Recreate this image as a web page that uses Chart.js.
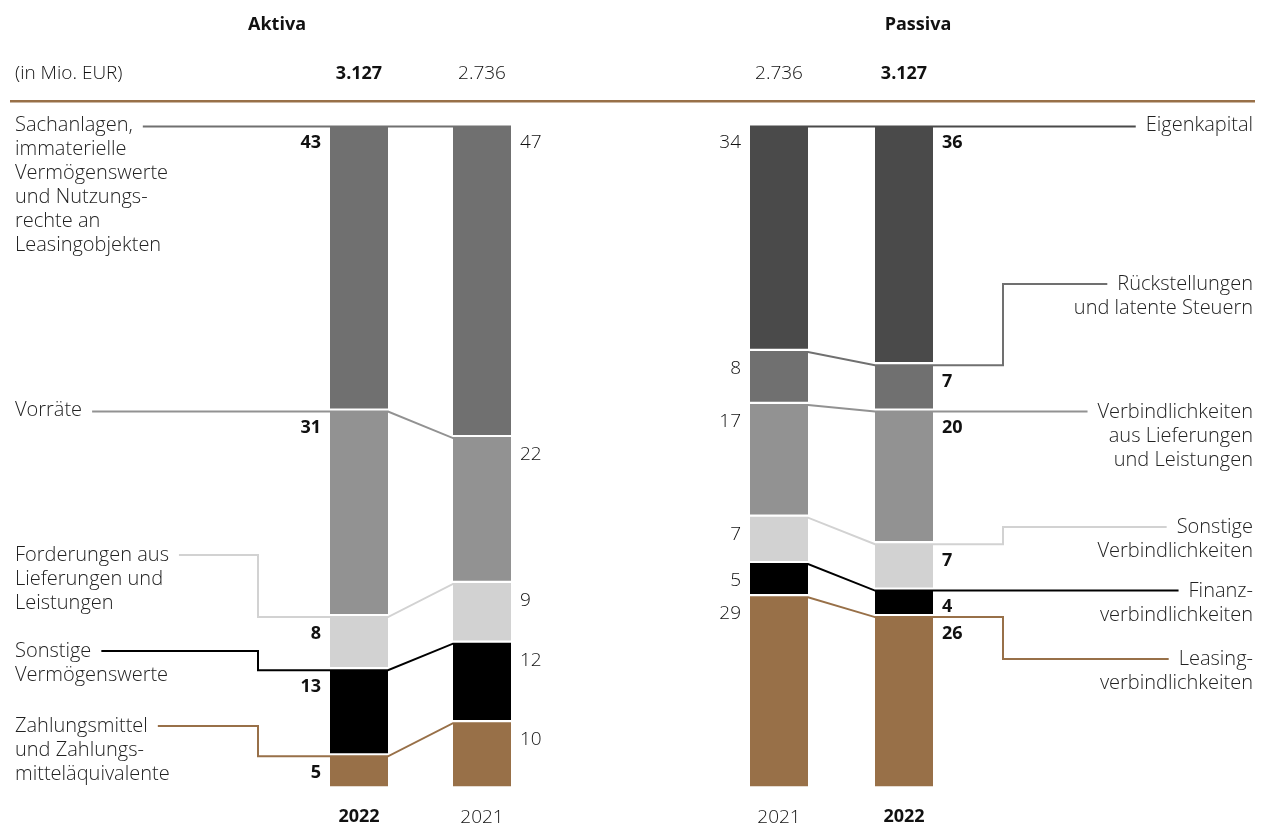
<!DOCTYPE html>
<html>
<head>
<meta charset="utf-8">
<script src="https://cdn.jsdelivr.net/npm/chart.js@4.4.1/dist/chart.umd.min.js"></script>
<style>
  html,body{margin:0;padding:0;background:#fff;}
  #wrap{position:relative;width:1263px;height:825px;overflow:hidden;}
  canvas{position:absolute;top:0;}
</style>
</head>
<body>
<div id="wrap">
  <canvas id="aktiva" width="632" height="825" style="left:0"></canvas>
  <canvas id="passiva" width="631" height="825" style="left:632px"></canvas>
</div>
<script>
// ---------- DATA ----------
const aktivaYears  = ['2022', '2021'];
const aktivaTotals = ['3.127', '2.736'];
const passivaYears  = ['2021', '2022'];
const passivaTotals = ['2.736', '3.127'];

// Aktiva series (in % of balance sheet total), bottom to top
const zahlungsmittel      = [5, 10];
const sonstigeVermoegen   = [13, 12];
const forderungen         = [8, 9];
const vorraete            = [31, 22];
const sachanlagen         = [43, 47];

// Passiva series, bottom to top
const leasingVerb         = [29, 26];
const finanzVerb          = [5, 4];
const sonstigeVerb        = [7, 7];
const verbLuL             = [17, 20];
const rueckstellungen     = [8, 7];
const eigenkapital        = [34, 36];

// Category labels (line-broken as in the original)
const aktivaCategories = [
  ['Zahlungsmittel', 'und Zahlungs-', 'mitteläquivalente'],
  ['Sonstige', 'Vermögenswerte'],
  ['Forderungen aus', 'Lieferungen und', 'Leistungen'],
  ['Vorräte'],
  ['Sachanlagen,', 'immaterielle', 'Vermögenswerte', 'und Nutzungs-', 'rechte an', 'Leasingobjekten']
];
const passivaCategories = [
  ['Leasing-', 'verbindlichkeiten'],
  ['Finanz-', 'verbindlichkeiten'],
  ['Sonstige', 'Verbindlichkeiten'],
  ['Verbindlichkeiten', 'aus Lieferungen', 'und Leistungen'],
  ['Rückstellungen', 'und latente Steuern'],
  ['Eigenkapital']
];

// ---------- STYLE / LAYOUT ----------
const FONT = '"Open Sans", "Noto Sans", sans-serif';
const LABEL_FONT = '300 20px ' + FONT;
const BROWN = '#987048';
const aktivaColors  = [BROWN, '#000000', '#d2d2d2', '#929292', '#707070'];
const passivaColors = [BROWN, '#000000', '#d2d2d2', '#929292', '#707070', '#4a4a4a'];
// label anchor layout (page coordinates): y = first text line / connector level, elbow = x of vertical step
const aktivaLabelLayout  = [{y: 726, elbow: 258}, {y: 651, elbow: 258}, {y: 555, elbow: 258}, {y: 410}, {y: 125}];
const passivaLabelLayout = [{y: 659, elbow: 1003}, {y: 591}, {y: 527, elbow: 1003}, {y: 412}, {y: 284, elbow: 1003}, {y: 125}];

const balancePlugin = {
  id: 'balance',
  afterDraw(chart, args, o) {
    const ctx = chart.ctx;
    const X = v => v - o.offsetX;
    ctx.save();
    // header
    ctx.fillStyle = '#111';
    ctx.textBaseline = 'middle';
    ctx.textAlign = 'center';
    ctx.font = '700 18px ' + FONT;
    ctx.fillText(o.title, X(o.titleX), 25);
    if (o.unit) {
      ctx.textAlign = 'left';
      ctx.font = '300 19px ' + FONT;
      ctx.fillText(o.unit, X(15), 74);
    }
    const xs = chart.scales.x;
    o.totals.forEach((t, i) => {
      const bold = o.years[i] === '2022';
      ctx.font = (bold ? '700 18px ' : '300 19px ') + FONT;
      ctx.textAlign = 'center';
      ctx.fillText(t, xs.getPixelForValue(i), 74);
    });
    ctx.fillStyle = BROWN;
    ctx.fillRect(X(o.ruleFrom), 100, o.ruleTo - o.ruleFrom, 2.5);

    // connectors, category labels and values
    const n = chart.data.datasets.length;
    for (let i = 0; i < n; i++) {
      const meta = chart.getDatasetMeta(i);
      const e0 = meta.data[0], e1 = meta.data[1];
      const l0 = e0.x - e0.width / 2, r0 = e0.x + e0.width / 2;
      const l1 = e1.x - e1.width / 2, r1 = e1.x + e1.width / 2;
      const t0 = e0.y + 1.5, t1 = e1.y + 1.5;
      const lay = o.layout[i];
      const lines = o.categories[i];
      ctx.font = LABEL_FONT;
      const tw = ctx.measureText(lines[0]).width;
      let pts;
      if (o.side === 'left') {
        const sx = X(15) + tw + 10;
        pts = lay.elbow != null ? [[sx, lay.y], [X(lay.elbow), lay.y], [X(lay.elbow), t0]] : [[sx, t0]];
        pts.push([r0, t0], [l1, t1], [r1, t1]);
      } else {
        const ex = X(1253) - tw - 10;
        pts = [[l0, t0], [r0, t0], [l1, t1], [r1, t1]];
        if (lay.elbow != null) pts.push([X(lay.elbow), t1], [X(lay.elbow), lay.y], [ex, lay.y]);
        else pts.push([ex, t1]);
      }
      ctx.strokeStyle = o.lineColors[i];
      ctx.lineWidth = 2;
      ctx.lineJoin = 'miter';
      ctx.beginPath();
      pts.forEach((p, k) => k ? ctx.lineTo(p[0], p[1]) : ctx.moveTo(p[0], p[1]));
      ctx.stroke();

      // category text
      ctx.fillStyle = '#222';
      ctx.textBaseline = 'middle';
      ctx.textAlign = o.side === 'left' ? 'left' : 'right';
      const tx = o.side === 'left' ? X(15) : X(1253);
      lines.forEach((s, k) => ctx.fillText(s, tx, lay.y + k * 24));

      // values
      const vals = chart.data.datasets[i].data;
      [[e0, 0], [e1, 1]].forEach(([el, j]) => {
        const bold = o.years[j] === '2022';
        ctx.font = (bold ? '700 18px ' : '300 19px ') + FONT;
        ctx.fillStyle = '#111';
        if (j === 0) { ctx.textAlign = 'right'; ctx.fillText(String(vals[j]), el.x - el.width / 2 - 9, el.y + 18); }
        else { ctx.textAlign = 'left'; ctx.fillText(String(vals[j]), el.x + el.width / 2 + 9, el.y + 18); }
      });
    }
    ctx.restore();
  }
};

function makeChart(id, years, totals, series, names, colors, categories, layout, extra, padding) {
  return new Chart(document.getElementById(id), {
    type: 'bar',
    data: {
      labels: years,
      datasets: series.map((s, i) => ({
        label: names[i],
        data: s,
        backgroundColor: colors[i],
        borderColor: '#ffffff',
        borderWidth: {top: 2, bottom: 2, left: 0, right: 0},
        borderSkipped: false,
        barThickness: 58
      }))
    },
    options: {
      responsive: false,
      animation: false,
      layout: {padding: padding},
      plugins: {
        legend: {display: false},
        tooltip: {enabled: false},
        balance: Object.assign({years, totals, categories, layout, lineColors: colors}, extra)
      },
      scales: {
        x: {
          stacked: true,
          grid: {display: false, drawTicks: false},
          border: {display: false},
          afterFit: s => { s.height = 37; },
          ticks: {
            padding: 18,
            color: '#111',
            font: c => ({family: FONT, size: years[c.index] === '2022' ? 18 : 19, weight: years[c.index] === '2022' ? '700' : '300'})
          }
        },
        y: {stacked: true, display: false, min: 0, max: 100}
      }
    },
    plugins: [balancePlugin]
  });
}

makeChart('aktiva', aktivaYears, aktivaTotals,
  [zahlungsmittel, sonstigeVermoegen, forderungen, vorraete, sachanlagen],
  aktivaCategories.map(c => c.join(' ')), aktivaColors, aktivaCategories, aktivaLabelLayout,
  {side: 'left', offsetX: 0, title: 'Aktiva', titleX: 277, unit: '(in Mio. EUR)', ruleFrom: 10, ruleTo: 632},
  {left: 297.5, right: 88.5, top: 125, bottom: 0});

makeChart('passiva', passivaYears, passivaTotals,
  [leasingVerb, finanzVerb, sonstigeVerb, verbLuL, rueckstellungen, eigenkapital],
  passivaCategories.map(c => c.join(' ')), passivaColors, passivaCategories, passivaLabelLayout,
  {side: 'right', offsetX: 632, title: 'Passiva', titleX: 918, unit: null, ruleFrom: 632, ruleTo: 1255},
  {left: 84.5, right: 296.5, top: 125, bottom: 0});
</script>
</body>
</html>
